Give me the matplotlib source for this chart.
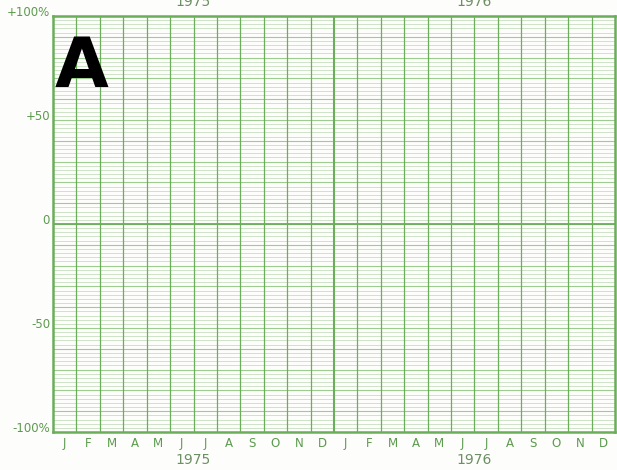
import matplotlib
matplotlib.use("Agg")
import matplotlib.pyplot as plt
import numpy as np

# ---------- data ----------
months = ['J', 'F', 'M', 'A', 'M', 'J', 'J', 'A', 'S', 'O', 'N', 'D']
years = ['1975', '1976']
y_ticks = [100, 50, 0, -50, -100]
y_labels = ['+100%', '+50', '0', '-50', '-100%']
minor_step = 2      # fine ruling, in %
medium_step = 10    # slightly heavier ruling

green = '#6aae5a'
light_green = '#bcd8b2'
text_green = '#5c9a4e'

fig = plt.figure(figsize=(6.17, 4.70), dpi=100)
fig.patch.set_facecolor('#fdfdfb')
ax = fig.add_axes([53 / 617, 38 / 470, 562 / 617, 416 / 470])
ax.set_facecolor('#fdfdfb')

n_months = len(months) * len(years)
ax.set_xlim(0, n_months)
ax.set_ylim(-100, 100)

# horizontal ruling
for v in np.arange(-100, 101, minor_step):
    if v % medium_step == 0:
        ax.axhline(v, color='#9ccc8e', lw=0.8, zorder=1)
    else:
        ax.axhline(v, color=light_green, lw=0.5, zorder=1)
ax.axhline(0, color=green, lw=1.3, zorder=2)

# vertical ruling: month boundaries, year boundary heavier
for m in range(1, n_months):
    if m % 12 == 0:
        ax.axvline(m, color=green, lw=1.5, zorder=2)
    else:
        ax.axvline(m, color=green, lw=0.9, zorder=2)

for s in ax.spines.values():
    s.set_color(green)
    s.set_linewidth(1.8)

ax.set_xticks([])
ax.set_yticks([])

# y labels
for v, lab in zip(y_ticks, y_labels):
    fig.text(50 / 617, ax.transData.transform((0, v))[1] / 470 + 0.008, lab,
             ha='right', va='center', color=text_green, fontsize=8.5,
             family='DejaVu Sans')

# month labels (bottom) and year labels (bottom + top, top ones cut off)
for i in range(n_months):
    ax.text(i + 0.5, -105.5, months[i % 12], ha='center', va='center',
            color=text_green, fontsize=8.5, family='DejaVu Sans')
for k, yr in enumerate(years):
    ax.text(12 * k + 6, -113.5, yr, ha='center', va='center',
            color='#6c8f63', fontsize=10, family='DejaVu Sans')
    ax.text(12 * k + 6, 103.5, yr, ha='center', va='bottom',
            color='#6c8f63', fontsize=10, family='DejaVu Sans')

# big panel letter
ax.text(0.08, 91.5, 'A', ha='left', va='top', fontsize=50, fontweight='bold',
        color='black', family='DejaVu Sans', zorder=5)

fig.savefig('out.png', dpi=100)
